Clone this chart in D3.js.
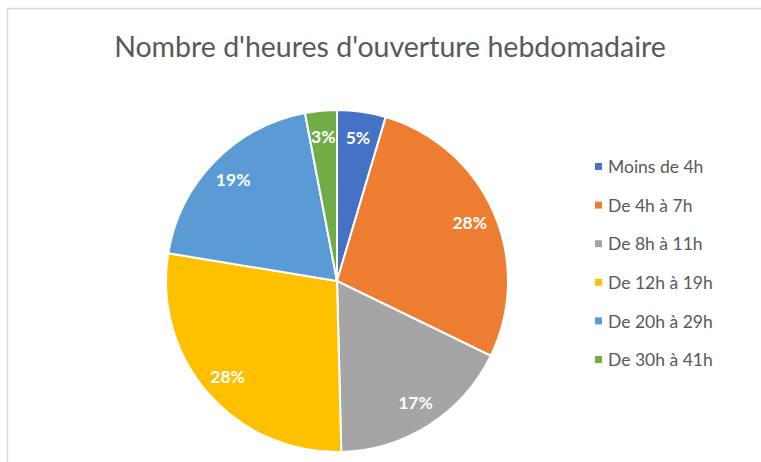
<!DOCTYPE html>
<html>
<head>
<meta charset="utf-8">
<script src="https://cdn.jsdelivr.net/npm/d3@7"></script>
<style>
  html, body { margin: 0; padding: 0; background: #fff; }
  svg { display: block; }
</style>
</head>
<body>
<svg id="chart" width="761" height="462"></svg>
<script>
const categories = ["Moins de 4h", "De 4h à 7h", "De 8h à 11h", "De 12h à 19h", "De 20h à 29h", "De 30h à 41h"];
const values = [4.6, 27.6, 17.4, 28.0, 19.4, 3.0];
const labels = ["5%", "28%", "17%", "28%", "19%", "3%"];
const colors = ["#4472C4", "#ED7D31", "#A5A5A5", "#FFC000", "#5B9BD5", "#70AD47"];
const title = "Nombre d'heures d'ouverture hebdomadaire";

const svg = d3.select("#chart");

// frame
svg.append("path")
  .attr("d", "M7.5,470 L7.5,8.5 L770,8.5")
  .attr("fill", "none").attr("stroke", "#d9d9d9").attr("stroke-width", 1.5);

svg.append("text")
  .attr("x", 390).attr("y", 57)
  .attr("text-anchor", "middle")
  .attr("font-family", "Lato, 'Open Sans', sans-serif")
  .attr("font-size", 28.5)
  .attr("fill", "#595959")
  .text(title);

const cx = 337, cy = 281, R = 171;
const g = svg.append("g").attr("transform", `translate(${cx},${cy})`);
const pie = d3.pie().sort(null).value(d => d)(values);
const arc = d3.arc().innerRadius(0).outerRadius(R);
const labelArc = d3.arc().innerRadius(145).outerRadius(145);

g.selectAll("path.slice").data(pie).enter().append("path")
  .attr("class", "slice")
  .attr("d", arc)
  .attr("fill", (d, i) => colors[i])
  .attr("stroke", "#fff").attr("stroke-width", 2);

g.selectAll("text.lbl").data(pie).enter().append("text")
  .attr("class", "lbl")
  .attr("transform", d => `translate(${labelArc.centroid(d)})`)
  .attr("text-anchor", "middle")
  .attr("dy", "0.36em")
  .attr("font-family", "Lato, 'Open Sans', sans-serif")
  .attr("font-weight", "bold")
  .attr("font-size", 17.5)
  .attr("fill", "#fff")
  .text((d, i) => labels[i]);

const leg = svg.append("g");
const legY = d3.scalePoint().domain(categories).range([167, 360]);
const item = leg.selectAll("g").data(categories).enter().append("g")
  .attr("transform", d => `translate(595,${legY(d)})`);
item.append("rect").attr("x", 0).attr("y", -4).attr("width", 7).attr("height", 7)
  .attr("fill", (d, i) => colors[i]);
item.append("text").attr("x", 13).attr("dy", "0.35em")
  .attr("font-family", "Lato, 'Open Sans', sans-serif")
  .attr("font-size", 17.5)
  .attr("fill", "#595959")
  .text(d => d);
</script>
</body>
</html>
